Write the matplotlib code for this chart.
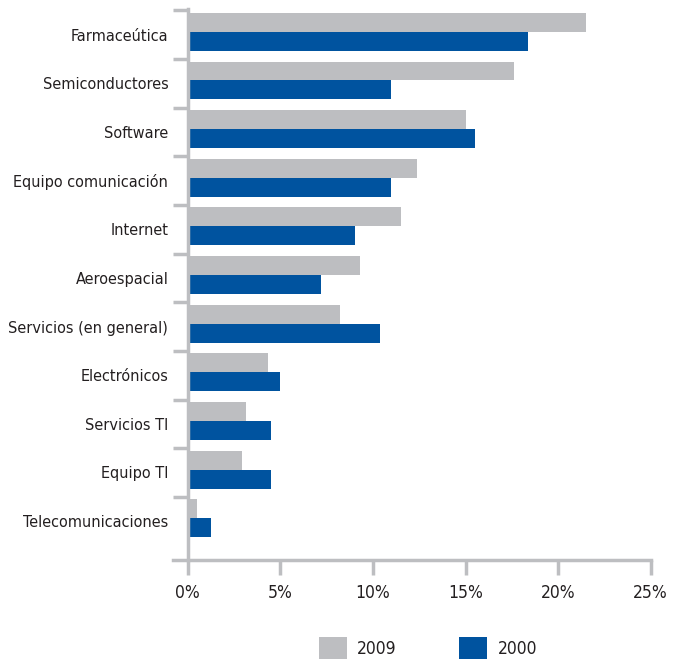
import matplotlib
matplotlib.use("Agg")
import matplotlib.pyplot as plt
from matplotlib.patches import Patch
from matplotlib.ticker import FixedLocator, FuncFormatter

plt.rcParams['font.family'] = ['DejaVu Sans']
plt.rcParams['font.stretch'] = 'condensed'

categories = ["Farmaceútica", "Semiconductores", "Software", "Equipo comunicación",
              "Internet", "Aeroespacial", "Servicios (en general)", "Electrónicos",
              "Servicios TI", "Equipo TI", "Telecomunicaciones"]
v2009 = [21.5, 17.6, 15.05, 12.4, 11.5, 9.3, 8.2, 4.35, 3.15, 2.95, 0.52]
v2000 = [18.4, 11.0, 15.5, 11.0, 9.05, 7.2, 10.4, 5.0, 4.47, 4.52, 1.25]
xticks = [0, 5, 10, 15, 20, 25]
series_labels = ["2009", "2000"]

GRAY = "#BDBEC1"
BLUE = "#00539F"
AXC = "#BDBEC1"
TXT = "#231F20"

fig = plt.figure(figsize=(6.77, 6.63), dpi=100)
ax = fig.add_axes([173/677, 1-560/663, (651-173)/677, (560-9)/663])

n = len(categories)
h = 0.39
pos = [i + 0.44 for i in range(n)]
ax.barh([p - h/2 for p in pos], v2009, height=h, color=GRAY, linewidth=0)
ax.barh([p + h/2 for p in pos], v2000, height=h, color=BLUE, linewidth=0)

ax.set_xlim(-0.8, 25.02)
ax.set_ylim(11.3, -0.03)

for s in ['top', 'right']:
    ax.spines[s].set_visible(False)
ax.spines['left'].set_position(('data', 0))
ax.spines['left'].set_color(AXC)
ax.spines['left'].set_linewidth(2.5)
ax.spines['bottom'].set_color(AXC)
ax.spines['bottom'].set_linewidth(2.5)

ax.set_yticks([i + 0.5 for i in range(n)])
ax.set_yticklabels(categories, fontsize=11.6, color=TXT)
ax.tick_params(axis='y', which='major', length=0, pad=14)
ax.yaxis.set_minor_locator(FixedLocator(list(range(n))))
ax.tick_params(axis='y', which='minor', length=10.5, width=2.5, color=AXC)

ax.set_xticks(xticks)
ax.xaxis.set_major_formatter(FuncFormatter(lambda v, p: f"{int(v)}%"))
ax.tick_params(axis='x', which='major', length=11, width=2.5, color=AXC,
               labelsize=12.5, labelcolor=TXT, pad=6)

handles = [Patch(facecolor=GRAY, edgecolor='none'), Patch(facecolor=BLUE, edgecolor='none')]
fig.legend(handles, series_labels, loc='center', bbox_to_anchor=(428/677, 1-648/663),
           ncol=2, frameon=False, fontsize=12.5, handlelength=1.6, handleheight=1.6,
           handletextpad=0.6, columnspacing=3.6, labelcolor=TXT)

fig.savefig("out.png", dpi=100)
